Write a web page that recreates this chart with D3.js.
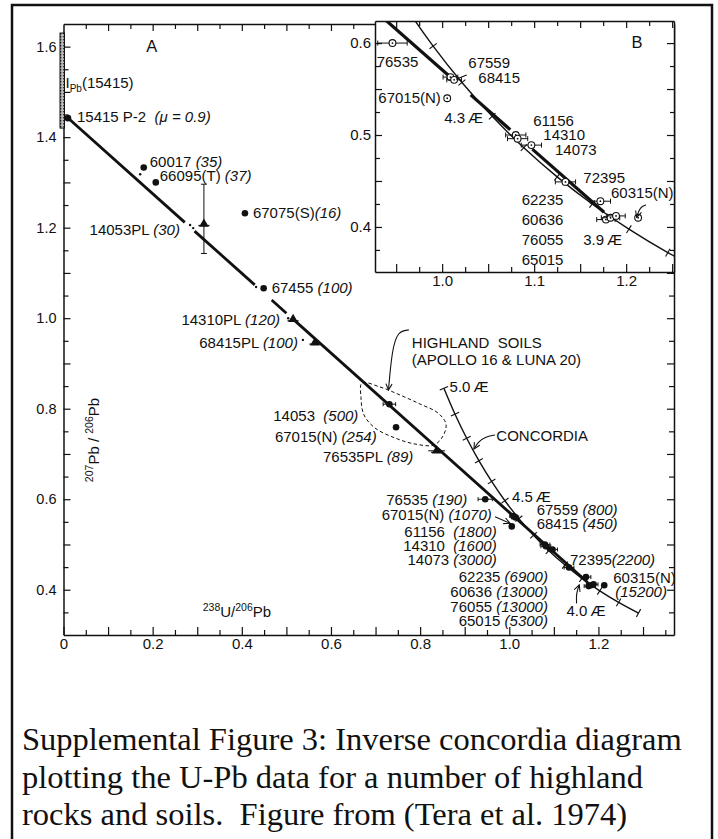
<!DOCTYPE html>
<html><head><meta charset="utf-8">
<script src="https://cdn.jsdelivr.net/npm/d3@7"></script>
<style>
html,body{margin:0;padding:0;background:#fff;}
svg{display:block;}
text{font-family:"Liberation Sans",Arial,Helvetica,sans-serif;fill:#111;}
.cap{font-family:"Liberation Serif","Times New Roman",serif;white-space:pre;}
</style></head><body>
<svg id="fig" width="718" height="839"></svg>
<script>
// ---------- tick labels ----------
const xTickLabelsA = [0, 0.2, 0.4, 0.6, 0.8, 1.0, 1.2];
const yTickLabelsA = [0.4, 0.6, 0.8, 1.0, 1.2, 1.4, 1.6];
const xTickLabelsB = [1.0, 1.1, 1.2];
const yTickLabelsB = [0.4, 0.5, 0.6];

// ---------- concordia (age in Ga, 238U/206Pb, 207Pb/206Pb) ----------
const concordiaAge = [5.0, 4.9, 4.8, 4.7, 4.6, 4.5, 4.4, 4.3, 4.2, 4.1, 4.0, 3.9, 3.8, 3.7];
const concordiaU   = [0.8533, 0.8783, 0.9045, 0.9318, 0.9604, 0.9902, 1.0215, 1.0544, 1.0888, 1.1250, 1.1630, 1.2030, 1.2453, 1.2899];
const concordiaPb  = [0.8453, 0.7879, 0.7346, 0.6852, 0.6393, 0.5967, 0.5571, 0.5204, 0.4862, 0.4545, 0.4250, 0.3976, 0.3721, 0.3484];

// ---------- whole-rock / soil samples ----------
const sampleId   = ["15415 P-2", "60017", "66095(T)", "67075(S)", "67455", "14053", "67015(N)", "76535", "67015(N)", "67559", "68415", "61156", "14310", "14073", "72395", "62235", "60636", "76055", "65015", "60315(N)"];
const sampleNote = ["(\u03bc = 0.9)", "(35)", "(37)", "(16)", "(100)", "(500)", "(254)", "(190)", "(1070)", "(800)", "(450)", "(1800)", "(1600)", "(3000)", "(2200)", "(6900)", "(13000)", "(13000)", "(5300)", "(15200)"];
const sampleU    = [0.010, 0.180, 0.207, 0.407, 0.449, 0.731, 0.746, 0.946, 1.0055, 1.009, 1.013, 1.080, 1.082, 1.097, 1.134, 1.172, 1.178, 1.183, 1.189, 1.213];
const samplePb   = [1.442, 1.333, 1.300, 1.232, 1.066, 0.810, 0.759, 0.600, 0.540, 0.563, 0.560, 0.500, 0.496, 0.489, 0.449, 0.428, 0.408, 0.410, 0.412, 0.410];
const sampleUErr = [0, 0, 0, 0, 0, 0.014, 0, 0.016, 0, 0.008, 0.008, 0.011, 0.011, 0.011, 0.011, 0.011, 0.010, 0.010, 0.010, 0];

// ---------- plagioclase separates ----------
const plId   = ["14053PL", "14310PL", "68415PL", "76535PL"];
const plNote = ["(30)", "(120)", "(100)", "(89)"];
const plU    = [0.315, 0.515, 0.564, 0.837];
const plPb   = [1.208, 0.9975, 0.946, 0.707];
const plUErr = [0.006, 0, 0, 0.019];
const plPbLo = [1.143, 0.9975, 0.946, 0.707];
const plPbHi = [1.296, 0.9975, 0.946, 0.707];

// faint secondary analyses beside some points
const minorU  = [0.172, 0.432, 0.284, 0.291, 0.504, 0.537];
const minorPb = [1.318, 1.069, 1.206, 1.199, 1.000, 0.952];

// initial lead of 15415
const initialPbRange = [1.42, 1.63];

// mixing line between the 15415 initial lead and ~4.0 AE on concordia
const mixU  = [0.0101, 1.176];
const mixPb = [1.4423, 0.416];
const mixGapsA = [[0.272, 0.294], [0.429, 0.467], [0.500, 0.520]];
const mixGapsB = [[1.007, 1.031], [1.074, 1.098]];

// field of highland soils (Apollo 16 & Luna 20)
const soilU  = [0.6696, 0.7100, 0.7548, 0.7997, 0.8401, 0.8580, 0.8513, 0.8311, 0.7885, 0.7437, 0.6988, 0.6741, 0.6674];
const soilPb = [0.8568, 0.8480, 0.8303, 0.8104, 0.7905, 0.7662, 0.7397, 0.7198, 0.7220, 0.7353, 0.7574, 0.7861, 0.8237];

// ---------- layout ----------
const svg = d3.select("#fig");
svg.append("rect").attr("width", 718).attr("height", 839).attr("fill", "#fff");

const A = {left: 63.5, right: 674, top: 24, bottom: 635};
const xA = d3.scaleLinear().domain([0, 1.3695]).range([A.left, A.right]);
const yA = d3.scaleLinear().domain([0.3, 1.65]).range([A.bottom, A.top]);

const B = {left: 375, right: 674, top: 21, bottom: 272};
const xB = d3.scaleLinear().domain([0.927, 1.252]).range([B.left, B.right]);
const yB = d3.scaleLinear().domain([0.351, 0.624]).range([B.bottom, B.top]);

const INK = "#111";
const near = (a, b) => Math.abs(a - b) < 1e-6;
const isMult = (v, s) => Math.abs(v / s - Math.round(v / s)) < 1e-6;
const fmt1 = v => near(v, 0) ? "0" : d3.format(".1f")(v);
const steps = (lo, hi, s) => d3.range(Math.round((hi - lo) / s) + 1).map(i => +(lo + i * s).toFixed(4));

// outer frame
svg.append("path").attr("d", "M12,845V5H712V845").attr("fill", "none").attr("stroke", INK).attr("stroke-width", 2.5);

const defs = svg.append("defs");
defs.append("marker").attr("id", "arrow").attr("viewBox", "0 0 10 10").attr("refX", 9).attr("refY", 5)
  .attr("markerWidth", 7).attr("markerHeight", 7).attr("orient", "auto-start-reverse")
  .append("path").attr("d", "M1,1L9,5L1,9").attr("fill", "none").attr("stroke", INK).attr("stroke-width", 1.4);
const pat = defs.append("pattern").attr("id", "hatch").attr("patternUnits", "userSpaceOnUse").attr("width", 3).attr("height", 3);
pat.append("rect").attr("width", 3).attr("height", 3).attr("fill", "#bbb");
pat.append("rect").attr("width", 1.4).attr("height", 1.4).attr("fill", "#333");
defs.append("clipPath").attr("id", "clipB").append("rect")
  .attr("x", B.left).attr("y", B.top).attr("width", B.right - B.left).attr("height", B.bottom - B.top);

function styleAxis(g, majorStep, majorLen, minorLen, dir) {
  g.attr("font-size", 14.5).attr("font-family", "'Liberation Sans',Arial,sans-serif");
  g.select(".domain").attr("stroke", INK).attr("stroke-width", 1.5);
  g.selectAll(".tick line").attr("stroke", INK).attr("stroke-width", 1.2)
    .attr(dir, v => (isMult(v, majorStep) ? majorLen : minorLen));
  g.selectAll(".tick text").attr("fill", INK);
}

function label(g, x, y, parts, anchor, size) {
  const t = g.append("text").attr("x", x).attr("y", y).attr("text-anchor", anchor || "start")
    .attr("font-size", size || 15).style("white-space", "pre");
  parts.forEach(p => t.append("tspan").text(p[0]).attr("font-style", p[1] ? "italic" : null));
  return t;
}

function concordiaPts(xs, ys) {
  return concordiaAge.map((a, i) => [xs(concordiaU[i]), ys(concordiaPb[i])]);
}

function drawConcordia(g, xs, ys, w) {
  const pts = concordiaPts(xs, ys);
  g.append("path").attr("d", d3.line().curve(d3.curveCatmullRom)(pts))
    .attr("fill", "none").attr("stroke", INK).attr("stroke-width", w);
  pts.forEach((p, i) => {
    const a = pts[Math.max(0, i - 1)], b = pts[Math.min(pts.length - 1, i + 1)];
    const dx = b[0] - a[0], dy = b[1] - a[1], L = Math.hypot(dx, dy);
    const nx = -dy / L * 4.5, ny = dx / L * 4.5;
    g.append("line").attr("x1", p[0] - nx).attr("y1", p[1] - ny).attr("x2", p[0] + nx).attr("y2", p[1] + ny)
      .attr("stroke", INK).attr("stroke-width", 1.1);
  });
}

function mixPbAt(u) { return mixPb[0] + (mixPb[1] - mixPb[0]) * (u - mixU[0]) / (mixU[1] - mixU[0]); }
function drawMix(g, xs, ys, lo, hi, gaps, w) {
  const bounds = [lo];
  gaps.forEach(gp => bounds.push(gp[0], gp[1]));
  bounds.push(hi);
  for (let i = 0; i < bounds.length; i += 2) {
    g.append("line").attr("x1", xs(bounds[i])).attr("y1", ys(mixPbAt(bounds[i])))
      .attr("x2", xs(bounds[i + 1])).attr("y2", ys(mixPbAt(bounds[i + 1])))
      .attr("stroke", INK).attr("stroke-width", w);
  }
}

function errBar(g, x1, x2, y, cap) {
  g.append("line").attr("x1", x1).attr("x2", x2).attr("y1", y).attr("y2", y).attr("stroke", INK).attr("stroke-width", 1);
  [x1, x2].forEach(x => g.append("line").attr("x1", x).attr("x2", x).attr("y1", y - cap).attr("y2", y + cap)
    .attr("stroke", INK).attr("stroke-width", 1));
}

function arrowPath(g, xs, ys, us, pbs, head) {
  const pts = us.map((u, i) => [xs(u), ys(pbs[i])]);
  g.append("path").attr("d", d3.line().curve(d3.curveBasis)(pts)).attr("fill", "none")
    .attr("stroke", INK).attr("stroke-width", 1.1).attr("marker-end", head ? "url(#arrow)" : null);
}

// ================= panel A =================
const gA = svg.append("g");
const xTickA = steps(0, 1.35, 0.05);
const yTickA = steps(0.3, 1.6, 0.05);

gA.append("g").attr("transform", `translate(0,${A.bottom})`)
  .call(d3.axisBottom(xA).tickValues(xTickA).tickSizeOuter(0).tickSizeInner(-6).tickPadding(3)
    .tickFormat(v => xTickLabelsA.some(t => near(t, v)) ? fmt1(v) : ""))
  .call(g => styleAxis(g, 0.1, -8, -5, "y2"))
  .call(g => g.selectAll(".tick text").attr("font-size", 15));
gA.append("g").attr("transform", `translate(0,${A.top})`)
  .call(d3.axisTop(xA).tickValues(xTickA.filter(v => v > 0)).tickSizeOuter(0).tickSizeInner(-6).tickFormat(""))
  .call(g => styleAxis(g, 0.1, 7, 5, "y2"));
gA.append("g").attr("transform", `translate(${A.left},0)`)
  .call(d3.axisLeft(yA).tickValues(yTickA.filter(v => v > 0.3)).tickSizeOuter(0).tickSizeInner(-6).tickPadding(7)
    .tickFormat(v => yTickLabelsA.some(t => near(t, v)) ? fmt1(v) : ""))
  .call(g => styleAxis(g, 0.1, 7, 5, "x2"));
gA.append("g").attr("transform", `translate(${A.right},0)`)
  .call(d3.axisRight(yA).tickValues(yTickA.filter(v => v > 0.3)).tickSizeOuter(0).tickSizeInner(-6).tickFormat(""))
  .call(g => styleAxis(g, 0.1, -7, -5, "x2"));

// initial lead bar of 15415
gA.append("rect").attr("x", xA(0) - 3.5).attr("width", 4.5)
  .attr("y", yA(initialPbRange[1])).attr("height", yA(initialPbRange[0]) - yA(initialPbRange[1]))
  .attr("fill", "url(#hatch)").attr("stroke", INK).attr("stroke-width", 1);
{
  const t = gA.append("text").attr("x", xA(0.0045)).attr("y", yA(1.5086)).attr("font-size", 15);
  t.append("tspan").text("I");
  t.append("tspan").text("Pb").attr("font-size", 10).attr("dy", 4);
  t.append("tspan").text("(15415)").attr("dy", -4);
}

// highland soils field
gA.append("path")
  .attr("d", d3.line().curve(d3.curveCatmullRomClosed)(soilU.map((u, i) => [xA(u), yA(soilPb[i])])))
  .attr("fill", "none").attr("stroke", INK).attr("stroke-width", 1).attr("stroke-dasharray", "3.5,2.5");

drawConcordia(gA, xA, yA, 1.4);
drawMix(gA, xA, yA, mixU[0], mixU[1], mixGapsA, 2.8);

// faint secondary analyses
minorU.forEach((u, i) => gA.append("circle").attr("cx", xA(u)).attr("cy", yA(minorPb[i])).attr("r", 1.2).attr("fill", INK));

// samples
sampleU.forEach((u, i) => {
  const cx = xA(u), cy = yA(samplePb[i]);
  if (sampleUErr[i] > 0) errBar(gA, xA(u - sampleUErr[i]), xA(u + sampleUErr[i]), cy, 2);
  gA.append("circle").attr("cx", cx).attr("cy", cy).attr("r", 3.3).attr("fill", INK);
});

// plagioclase separates
plU.forEach((u, i) => {
  const cx = xA(u), cy = yA(plPb[i]);
  if (plPbHi[i] > plPbLo[i]) {
    gA.append("line").attr("x1", cx).attr("x2", cx).attr("y1", yA(plPbHi[i])).attr("y2", yA(plPbLo[i])).attr("stroke", INK).attr("stroke-width", 1);
    [plPbHi[i], plPbLo[i]].forEach(v => gA.append("line").attr("x1", cx - 3).attr("x2", cx + 3).attr("y1", yA(v)).attr("y2", yA(v)).attr("stroke", INK).attr("stroke-width", 1));
  }
  if (plUErr[i] > 0) errBar(gA, xA(u - plUErr[i]), xA(u + plUErr[i]), cy, 0);
  gA.append("line").attr("x1", cx - 5.5).attr("x2", cx + 5.5).attr("y1", cy + 1.5).attr("y2", cy + 1.5).attr("stroke", INK).attr("stroke-width", 1.3);
  gA.append("path").attr("transform", `translate(${cx},${cy})`).attr("d", d3.symbol(d3.symbolTriangle).size(40)()).attr("fill", INK);
});

// sample labels in panel A: [dx, dy, anchor]
const labelA = [
  [9, 4, "start"], [6, 0, "start"], [4, -1.5, "start"], [8, 5, "start"], [8, 5, "start"],
  [-31, 16.5, "end"], [-19.4, 14.4, "end"], [-18, 5.8, "end"], [-20, -6.4, "end"],
  [23.4, -1, "start"], [21.6, 11.7, "start"],
  [-48.3, -7.5, "end"], [-49.2, 4.7, "end"], [-55.8, 15.5, "end"],
  [1, -3, "start"],
  [-38, 5, "end"], [-40.7, 11, "end"], [-42.9, 26.8, "end"], [-45.6, 41.7, "end"],
  [9, -2.5, "split"]
];
const gapA = ["  ", " ", " ", "", " ", "  ", " ", " ", " ", " ", " ", "  ", "  ", " ", "", " ", " ", " ", " ", ""];
sampleU.forEach((u, i) => {
  const cx = xA(u), cy = yA(samplePb[i]);
  const [dx, dy, anc] = labelA[i];
  if (anc === "split") {
    label(gA, cx + dx, cy + dy, [[sampleId[i], false]], "start");
    label(gA, cx + dx + 2, cy + dy + 14, [[sampleNote[i], true]], "start");
  } else {
    label(gA, cx + dx, cy + dy, [[sampleId[i] + gapA[i], false], [sampleNote[i], true]], anc);
  }
});
const labelPL = [[-24, 11], [-13, 6], [-17, 5.4], [-23.3, 11]];
plU.forEach((u, i) => {
  label(gA, xA(u) + labelPL[i][0], yA(plPb[i]) + labelPL[i][1], [[plId[i] + " ", false], [plNote[i], true]], "end");
});

// concordia age labels
const ageLabelA = [[5.0, 5.7, 3.5], [4.5, 7, 1.6], [4.0, -15.4, 38]];
ageLabelA.forEach(([age, dx, dy]) => {
  const i = concordiaAge.findIndex(a => near(a, age));
  label(gA, xA(concordiaU[i]) + dx, yA(concordiaPb[i]) + dy, [[age.toFixed(1) + "\u2009\u00c6", false]], "start");
});

// annotation arrows
arrowPath(gA, xA, yA, [0.775, 0.750, 0.7369, 0.729], [0.9739, 0.9717, 0.9297, 0.8413], true);
arrowPath(gA, xA, yA, [0.968, 0.9455, 0.9298, 0.9208], [0.7419, 0.7375, 0.7264, 0.7110], true);
arrowPath(gA, xA, yA, [1.151, 1.150, 1.157], [0.3699, 0.392, 0.4105], true);
arrowPath(gA, xA, yA, [0.968, 1.0016], [0.5614, 0.5468], true);

label(gA, xA(0.7814), yA(0.9335), [["HIGHLAND  SOILS", false]], "start");
label(gA, xA(0.7814), yA(0.8968), [["(APOLLO 16 & LUNA 20)", false]], "start");
label(gA, xA(0.971), yA(0.729), [["CONCORDIA", false]], "start");
label(gA, xA(0.198), yA(1.5888), [["A", false]], "middle", 16.5);

// axis titles
{
  const t = gA.append("text").attr("x", xA(0.3124)).attr("y", yA(0.3407)).attr("font-size", 15);
  t.append("tspan").text("238").attr("font-size", 10.5).attr("dy", -6);
  t.append("tspan").text("U/").attr("dy", 6);
  t.append("tspan").text("206").attr("font-size", 10.5).attr("dy", -6);
  t.append("tspan").text("Pb").attr("dy", 6);
}
{
  const t = gA.append("text").attr("transform", "translate(99,440) rotate(-90)").attr("text-anchor", "middle").attr("font-size", 15);
  t.append("tspan").text("207").attr("font-size", 10.5).attr("dy", -6);
  t.append("tspan").text("Pb / ").attr("dy", 6);
  t.append("tspan").text("206").attr("font-size", 10.5).attr("dy", -6);
  t.append("tspan").text("Pb").attr("dy", 6);
}

// ================= panel B (enlarged) =================
const gB = svg.append("g");
gB.append("rect").attr("x", B.left).attr("y", B.top).attr("width", B.right - B.left).attr("height", B.bottom - B.top).attr("fill", "#fff");
const xTickB = steps(0.95, 1.25, 0.025);
const yTickB = steps(0.375, 0.6, 0.025);
gB.append("g").attr("transform", `translate(0,${B.bottom})`)
  .call(d3.axisBottom(xB).tickValues(xTickB).tickSizeOuter(0).tickSizeInner(-6).tickPadding(3)
    .tickFormat(v => xTickLabelsB.some(t => near(t, v)) ? fmt1(v) : ""))
  .call(g => styleAxis(g, 0.05, -8, -5, "y2"))
  .call(g => g.selectAll(".tick text").attr("font-size", 15));
gB.append("g").attr("transform", `translate(0,${B.top})`)
  .call(d3.axisTop(xB).tickValues(xTickB).tickSizeOuter(0).tickSizeInner(-6).tickFormat(""))
  .call(g => styleAxis(g, 0.05, 7, 5, "y2"));
gB.append("g").attr("transform", `translate(${B.left},0)`)
  .call(d3.axisLeft(yB).tickValues(yTickB).tickSizeOuter(0).tickSizeInner(-6).tickPadding(4)
    .tickFormat(v => yTickLabelsB.some(t => near(t, v)) ? fmt1(v) : ""))
  .call(g => styleAxis(g, 0.05, 7, 5, "x2"))
  .call(g => g.selectAll(".tick text").attr("font-size", 15));
gB.append("g").attr("transform", `translate(${B.right},0)`)
  .call(d3.axisRight(yB).tickValues(yTickB).tickSizeOuter(0).tickSizeInner(-6).tickFormat(""))
  .call(g => styleAxis(g, 0.05, -7, -4, "x2"));

const cB = gB.append("g").attr("clip-path", "url(#clipB)");
drawConcordia(cB, xB, yB, 1.4);
drawMix(cB, xB, yB, 0.92, mixU[1], mixGapsB, 3.2);

const inB = sampleU.map((u, i) => i).filter(i => sampleU[i] > 0.93);
inB.forEach(i => {
  const cx = xB(sampleU[i]), cy = yB(samplePb[i]);
  if (sampleUErr[i] > 0) errBar(cB, xB(sampleU[i] - sampleUErr[i]), xB(sampleU[i] + sampleUErr[i]), cy, 2.5);
  cB.append("circle").attr("cx", cx).attr("cy", cy).attr("r", 3.4).attr("fill", "#fff").attr("stroke", INK).attr("stroke-width", 1.1);
  cB.append("circle").attr("cx", cx).attr("cy", cy).attr("r", 0.9).attr("fill", INK);
});

// sample labels in panel B
const labelB = {
  7: [-15.8, 23.6], 9: [17.9, -8.8], 10: [24.2, 3.5], 8: [-68.9, 5.1],
  11: [17.5, -9], 12: [25.7, 1.3], 13: [23.6, 9.9], 14: [17.9, 0.8],
  15: [-78.7, 3.8], 16: [-84.2, 5.4], 17: [-88.8, 27.2], 18: [-94.3, 49], 19: [-27.1, -19.8]
};
inB.forEach(i => {
  const [dx, dy] = labelB[i];
  label(gB, xB(sampleU[i]) + dx, yB(samplePb[i]) + dy, [[sampleId[i], false]], "start");
});
const ageLabelB = [[4.3, -48, 6.5], [3.9, -45.7, 15.8]];
ageLabelB.forEach(([age, dx, dy]) => {
  const i = concordiaAge.findIndex(a => near(a, age));
  label(gB, xB(concordiaU[i]) + dx, yB(concordiaPb[i]) + dy, [[age.toFixed(1) + "\u2009\u00c6", false]], "start");
});
arrowPath(gB, xB, yB, [1.2216, 1.215, 1.2114], [0.4239, 0.4217, 0.4105], true);
arrowPath(gB, xB, yB, [1.0267, 1.015], [0.5653, 0.5606], false);
label(gB, xB(1.2117), yB(0.5944), [["B", false]], "middle", 16.5);

// ================= caption =================
const caption = [
  "Supplemental Figure 3: Inverse concordia diagram",
  "plotting the U-Pb data for a number of highland",
  "rocks and soils.  Figure from (Tera et al. 1974)"
];
caption.forEach((line, i) => {
  svg.append("text").attr("class", "cap").attr("x", 22).attr("y", 750 + i * 37.5)
    .attr("font-size", 32.5).text(line);
});
</script></body></html>
